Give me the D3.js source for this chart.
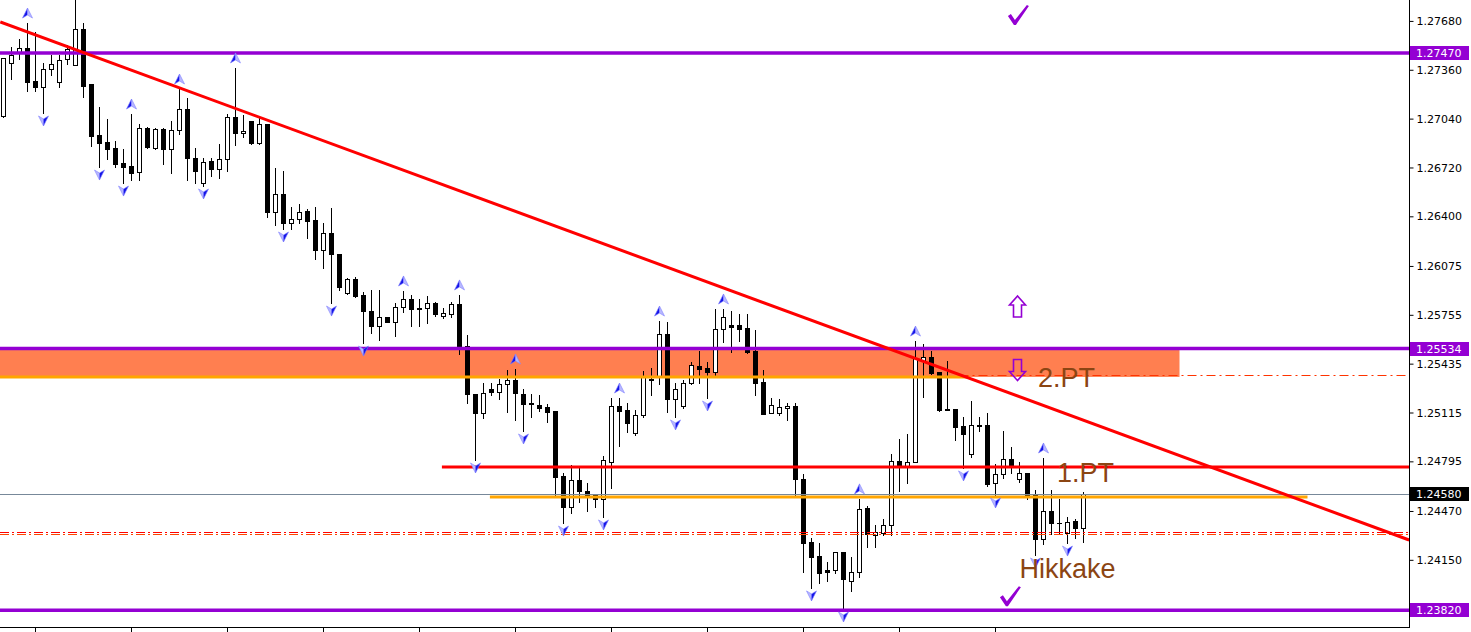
<!DOCTYPE html>
<html><head><meta charset="utf-8">
<script src="https://cdn.jsdelivr.net/npm/d3@7"></script>
<style>body{margin:0;background:#fff;overflow:hidden} svg{display:block}</style>
</head><body>
<svg id="chart" width="1471" height="632"></svg>
<script>
const open = [1.27057,1.27404,1.27476,1.27503,1.27286,1.27247,1.27365,1.27280,1.27431,1.27391,
1.27627,1.27267,1.26933,1.26887,1.26848,1.26749,1.26730,1.26690,1.26979,1.26848,
1.26972,1.26841,1.26966,1.27103,1.26782,1.26618,1.26762,1.26710,1.26776,1.27051,
1.26946,1.27024,1.26880,1.27005,1.26428,1.26546,1.26356,1.26383,1.26435,1.26376,
1.26180,1.26291,1.26153,1.25898,1.25990,1.25885,1.25780,1.25682,1.25741,1.25708,
1.25806,1.25859,1.25800,1.25800,1.25832,1.25747,1.25760,1.25826,1.25551,1.25236,
1.25112,1.25269,1.25249,1.25302,1.25328,1.25236,1.25177,1.25164,1.25151,1.25125,
1.24699,1.24496,1.24673,1.24601,1.24575,1.24549,1.24791,1.25158,1.25132,1.24981,
1.25099,1.25328,1.25348,1.25629,1.25204,1.25158,1.25308,1.25420,1.25407,1.25380,
1.25662,1.25688,1.25688,1.25669,1.25518,1.25315,1.25112,1.25112,1.25145,1.25158,
1.24680,1.24267,1.24175,1.24084,1.24084,1.24201,1.24011,1.24070,1.24490,1.24313,
1.24326,1.24378,1.24797,1.24758,1.24791,1.25452,1.25479,1.25380,1.25138,1.25138,
1.25027,1.24843,1.25033,1.25033,1.24653,1.24712,1.24811,1.24680,1.24719,1.24575,
1.24287,1.24470,1.24391,1.24326,1.24404,1.24359];
const high = [1.27437,1.27509,1.27562,1.27666,1.27607,1.27404,1.27457,1.27457,1.27522,1.27820,
1.27666,1.27267,1.27116,1.27038,1.26893,1.26841,1.27070,1.27005,1.26985,1.26979,
1.26979,1.27024,1.27234,1.27175,1.26848,1.26782,1.26782,1.26874,1.27070,1.27372,
1.27064,1.27024,1.27051,1.27005,1.26717,1.26697,1.26461,1.26481,1.26448,1.26461,
1.26356,1.26455,1.26153,1.25996,1.26003,1.25904,1.25918,1.25918,1.25741,1.25832,
1.25911,1.25885,1.25859,1.25878,1.25839,1.25800,1.25839,1.25885,1.25623,1.25236,
1.25308,1.25308,1.25335,1.25394,1.25400,1.25269,1.25236,1.25230,1.25171,1.25125,
1.24719,1.24771,1.24765,1.24653,1.24581,1.24830,1.25210,1.25210,1.25177,1.25132,
1.25387,1.25407,1.25714,1.25708,1.25308,1.25328,1.25446,1.25518,1.25446,1.25793,
1.25793,1.25780,1.25760,1.25760,1.25656,1.25394,1.25210,1.25204,1.25177,1.25177,
1.24712,1.24293,1.24260,1.24136,1.24201,1.24201,1.24169,1.24549,1.24503,1.24378,
1.24418,1.24843,1.24942,1.24974,1.25583,1.25564,1.25518,1.25380,1.25452,1.25138,
1.25086,1.25190,1.25086,1.25112,1.24778,1.24994,1.24889,1.24791,1.24719,1.24608,
1.24817,1.24608,1.24549,1.24431,1.24418,1.24594];
const low = [1.27051,1.27300,1.27431,1.27221,1.27221,1.27077,1.27326,1.27247,1.27398,1.27391,
1.27182,1.26861,1.26723,1.26776,1.26723,1.26618,1.26638,1.26638,1.26848,1.26841,
1.26743,1.26684,1.26939,1.26638,1.26618,1.26599,1.26664,1.26651,1.26697,1.26867,
1.26920,1.26874,1.26874,1.26396,1.26343,1.26317,1.26317,1.26356,1.26258,1.26121,
1.26062,1.25832,1.25918,1.25891,1.25872,1.25570,1.25636,1.25590,1.25708,1.25616,
1.25773,1.25682,1.25682,1.25701,1.25747,1.25734,1.25741,1.25498,1.25177,1.24804,
1.25079,1.25230,1.25204,1.25118,1.25066,1.24994,1.25086,1.25125,1.25053,1.24575,
1.24391,1.24457,1.24529,1.24470,1.24496,1.24431,1.24621,1.24896,1.24987,1.24968,
1.25086,1.25230,1.25302,1.25118,1.25086,1.25145,1.25302,1.25308,1.25210,1.25354,
1.25577,1.25511,1.25583,1.25505,1.25230,1.25105,1.25112,1.25099,1.25066,1.24575,
1.24070,1.23966,1.23998,1.24011,1.24064,1.23828,1.23946,1.24038,1.24234,1.24234,
1.24313,1.24313,1.24601,1.24653,1.24791,1.25217,1.25367,1.25125,1.25132,1.24935,
1.24752,1.24824,1.24994,1.24634,1.24575,1.24686,1.24719,1.24660,1.24549,1.24182,
1.24254,1.24319,1.24326,1.24260,1.24293,1.24267];
const close = [1.27437,1.27457,1.27503,1.27280,1.27247,1.27365,1.27398,1.27424,1.27496,1.27627,
1.27254,1.26926,1.26880,1.26841,1.26743,1.26723,1.26684,1.26979,1.26854,1.26972,
1.26841,1.26966,1.27103,1.26782,1.26697,1.26756,1.26710,1.26776,1.27051,1.26946,
1.26959,1.26880,1.27005,1.26428,1.26546,1.26356,1.26383,1.26428,1.26369,1.26180,
1.26291,1.26153,1.25937,1.25990,1.25878,1.25780,1.25682,1.25741,1.25708,1.25806,
1.25859,1.25793,1.25793,1.25832,1.25760,1.25767,1.25826,1.25551,1.25236,1.25112,
1.25243,1.25249,1.25302,1.25328,1.25243,1.25171,1.25171,1.25145,1.25118,1.24693,
1.24496,1.24673,1.24601,1.24568,1.24549,1.24804,1.25158,1.25125,1.25046,1.25099,
1.25348,1.25335,1.25629,1.25204,1.25269,1.25308,1.25426,1.25400,1.25380,1.25662,
1.25741,1.25675,1.25662,1.25511,1.25308,1.25105,1.25164,1.25151,1.25158,1.24680,
1.24260,1.24169,1.24064,1.24070,1.24201,1.24025,1.24070,1.24483,1.24319,1.24332,
1.24378,1.24797,1.24758,1.24791,1.25472,1.25479,1.25374,1.25132,1.25132,1.25020,
1.24974,1.25033,1.25027,1.24647,1.24712,1.24811,1.24758,1.24719,1.24575,1.24287,
1.24470,1.24391,1.24388,1.24398,1.24359,1.24580];

const upFractals = [3,16,22,29,50,57,64,77,82,90,107,114,130];
const downFractals = [5,12,15,25,35,41,45,59,65,70,75,84,88,101,105,120,124,129,133];
const priceTicks = [1.27680,1.27360,1.27040,1.26720,1.26400,1.26075,1.25755,1.25435,1.25115,1.24795,1.24470,1.24150];
const priceTickLabels = ["1.27680","1.27360","1.27040","1.26720","1.26400","1.26075","1.25755","1.25435","1.25115","1.24795","1.24470","1.24150"];
const timeTicks = [4,16,28,40,52,64,76,88,100,112,124];
const purpleLevels = [1.27470,1.25534,1.23820];
const purpleLabels = ["1.27470","1.25534","1.23820"];
const lastPrice = 1.24580;
const lastPriceLabel = "1.24580";
const zoneTop = 1.25534, zoneBottom = 1.25348;
const redLevel = 1.24758;
const orangeLevel = 1.24562;
const hikkakeLevels = [1.24327, 1.24314];
const trendIdx = [-0.4, 175.7];
const trendPrice = [1.27673, 1.24280];
const labels = ["2.PT","1.PT","Hikkake"];

const W = 1471, H = 632, PR = 1409, PB = 627;
const svg = d3.select("#chart");
const y = d3.scaleLinear().domain([1.23710, 1.27817]).range([PB, 0]);
const x = d3.scaleLinear().domain([0, 135]).range([3.5, 1083.5]);
const px = v => Math.floor(v) + 0.5;

svg.append("rect").attr("width", W).attr("height", H).attr("fill", "#fff");
svg.append("defs").append("clipPath").attr("id", "plot").append("rect").attr("width", PR).attr("height", PB);
const g = svg.append("g").attr("clip-path", "url(#plot)");

// zone rectangle (background)
g.append("rect").attr("x", 0).attr("width", x(147))
  .attr("y", y(zoneTop)).attr("height", y(zoneBottom) - y(zoneTop)).attr("fill", "#FF7F50");

// candles
const data = open.map((o, i) => ({i, o, h: high[i], l: low[i], c: close[i]}));
const cg = g.append("g");
cg.selectAll("line.wick").data(data).join("line").attr("class", "wick")
  .attr("x1", d => px(x(d.i))).attr("x2", d => px(x(d.i)))
  .attr("y1", d => Math.round(y(d.h))).attr("y2", d => Math.round(y(d.l)) + 1)
  .attr("stroke", "#000").attr("stroke-width", 1);
cg.selectAll("rect.body").data(data).join("rect").attr("class", "body")
  .attr("x", d => px(x(d.i)) - 2).attr("width", 4)
  .attr("y", d => Math.round(y(Math.max(d.o, d.c))) + 0.5)
  .attr("height", d => Math.max(0.01, Math.round(y(Math.min(d.o, d.c))) - Math.round(y(Math.max(d.o, d.c)))))
  .attr("fill", d => d.c >= d.o ? "#fff" : "#000").attr("stroke", "#000").attr("stroke-width", 1);

// lines
g.append("line").attr("x1", 0).attr("x2", PR).attr("y1", px(y(lastPrice))).attr("y2", px(y(lastPrice)))
  .attr("stroke", "#778899").attr("stroke-width", 1);
const hc = ["#FF0000", "#FF4500"];
hikkakeLevels.forEach((p, k) => {
  g.append("line").attr("x1", 0).attr("x2", PR).attr("y1", px(y(p))).attr("y2", px(y(p)))
    .attr("stroke", hc[k]).attr("stroke-width", 1).attr("stroke-dasharray", "9,3,2,3");
});
g.append("line").attr("x1", 0).attr("x2", x(120.8)).attr("y1", y(zoneBottom)).attr("y2", y(zoneBottom))
  .attr("stroke", "#FFA500").attr("stroke-width", 3);
g.append("line").attr("x1", x(119.5)).attr("x2", PR).attr("y1", px(y(zoneBottom)) - 1).attr("y2", px(y(zoneBottom)) - 1)
  .attr("stroke", "#FF3300").attr("stroke-width", 1).attr("stroke-dasharray", "9,4,2,4");
g.append("line").attr("x1", x(54.8)).attr("x2", PR).attr("y1", y(redLevel)).attr("y2", y(redLevel))
  .attr("stroke", "#FF0000").attr("stroke-width", 3);
g.append("line").attr("x1", x(60.8)).attr("x2", x(163)).attr("y1", y(orangeLevel)).attr("y2", y(orangeLevel))
  .attr("stroke", "#FFA500").attr("stroke-width", 3);
purpleLevels.forEach(p => {
  g.append("line").attr("x1", 0).attr("x2", PR).attr("y1", y(p)).attr("y2", y(p))
    .attr("stroke", "#9400D3").attr("stroke-width", 3.5);
});
g.append("path").datum(trendIdx.map((t, k) => [t, trendPrice[k]]))
  .attr("d", d3.line().x(d => x(d[0])).y(d => y(d[1])))
  .attr("stroke", "#FF0000").attr("stroke-width", 3).attr("fill", "none");

// fractals
const fg = g.append("g");
upFractals.forEach(i => {
  const cx = px(x(i)), cy = y(high[i]) - 10;
  fg.append("path").attr("d", `M${cx},${cy-5} L${cx},${cy+2} L${cx-5},${cy+5} Z`).attr("fill", "#1515E8").attr("stroke", "#8080ff").attr("stroke-width", 0.6);
  fg.append("path").attr("d", `M${cx},${cy-5} L${cx+5},${cy+5} L${cx},${cy+2} Z`).attr("fill", "#b8b8ff").attr("stroke", "#8080ff").attr("stroke-width", 0.6);
});
downFractals.forEach(i => {
  const cx = px(x(i)), cy = y(low[i]) + 8;
  fg.append("path").attr("d", `M${cx},${cy+5} L${cx},${cy-2} L${cx-5},${cy-5} Z`).attr("fill", "#b8b8ff").attr("stroke", "#8080ff").attr("stroke-width", 0.6);
  fg.append("path").attr("d", `M${cx},${cy+5} L${cx+5},${cy-5} L${cx},${cy-2} Z`).attr("fill", "#1515E8").attr("stroke", "#8080ff").attr("stroke-width", 0.6);
});

// annotations
const tStyle = s => s.attr("font-family", "Arial, 'Liberation Sans', sans-serif").attr("font-size", 27).attr("fill", "#8B4513");
g.append("text").attr("x", x(129.3)).attr("y", y(zoneBottom) + 10).text(labels[0]).call(tStyle);
g.append("text").attr("x", x(131.7)).attr("y", y(redLevel) + 15).text(labels[1]).call(tStyle);
g.append("text").attr("x", x(127)).attr("y", y(hikkakeLevels[0]) + 45).text(labels[2]).call(tStyle);

function check(cx, cy) {
  g.append("path").attr("transform", `translate(${cx - 10},${cy - 10})`)
    .attr("d", "M0,11 L3,9 L7,15 L19,0 L21,1 L8,20 L6,20 Z").attr("fill", "#9400D3");
}
check(x(126.8), 15);
check(x(125.8), y(purpleLevels[2]) - 14);

function hollowArrow(cx, top, down) {
  const pts = [[0,0],[-8,9],[-4,9],[-4,21],[4,21],[4,9],[8,9]];
  const d = "M" + pts.map(p => `${cx + p[0]},${down ? top + 21 - p[1] : top + p[1]}`).join(" L") + " Z";
  g.append("path").attr("d", d).attr("fill", "none").attr("stroke", "#9400D3").attr("stroke-width", 1.6);
}
hollowArrow(px(x(126.8)), 296, false);
hollowArrow(px(x(126.8)), y(zoneTop) + 11, true);

// axes
const ay = svg.append("g").attr("transform", `translate(${PR + 0.5},0)`)
  .call(d3.axisRight(y).tickValues(priceTicks).tickFormat((d, i) => priceTickLabels[i]).tickSize(4).tickSizeOuter(0).tickPadding(3));
ay.select(".domain").remove();
ay.selectAll("text").attr("font-family", "'DejaVu Sans', Tahoma, sans-serif").attr("font-size", 11).attr("fill", "#000");
ay.selectAll("line").attr("stroke", "#000");
svg.append("line").attr("x1", PR + 0.5).attr("x2", PR + 0.5).attr("y1", 0).attr("y2", PB + 1).attr("stroke", "#000");

const ax = svg.append("g").attr("transform", `translate(0,${PB + 0.5})`)
  .call(d3.axisBottom(x).tickValues(timeTicks).tickFormat("").tickSize(5).tickSizeOuter(0));
ax.select(".domain").remove();
ax.selectAll("line").attr("stroke", "#000");
ax.selectAll(".tick").attr("transform", d => `translate(${px(x(d))},0)`);
svg.append("line").attr("x1", 0).attr("x2", PR + 1).attr("y1", PB + 0.5).attr("y2", PB + 0.5).attr("stroke", "#000");

// price tags
function tag(p, label, color) {
  const yy = Math.round(y(p));
  svg.append("rect").attr("x", PR + 1).attr("y", yy - 7).attr("width", W - PR - 3).attr("height", 14).attr("fill", color);
  svg.append("text").attr("x", PR + 7).attr("y", yy).attr("dy", "0.36em").text(label)
    .attr("font-family", "'DejaVu Sans', Tahoma, sans-serif").attr("font-size", 11).attr("fill", "#fff");
}
purpleLevels.forEach((p, k) => tag(p, purpleLabels[k], "#9400D3"));
tag(lastPrice, lastPriceLabel, "#000");
</script>
</body></html>
